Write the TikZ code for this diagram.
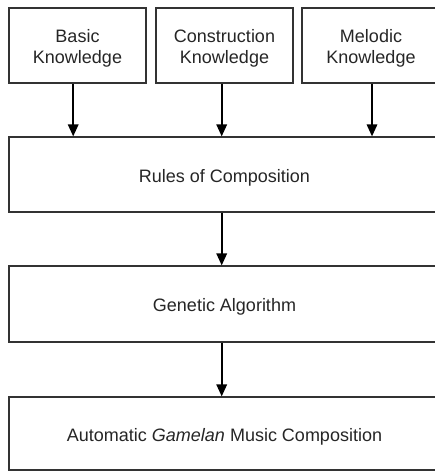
\documentclass[tikz,border=0pt]{standalone}
\usepackage{fontspec}
\setmainfont{Liberation Sans}
\usetikzlibrary{arrows.meta}
\begin{document}
\begin{tikzpicture}[x=1bp,y=-1bp,
  box/.style={draw=black!80, line width=1.2bp, fill=white, inner sep=0pt},
  txt/.style={align=center, inner sep=0pt, yshift=-3bp,
    font=\fontsize{18bp}{20.5bp}\selectfont, text=black!85},
  topbox/.style={box, minimum width=137bp, minimum height=75bp},
  widebox/.style={box, minimum width=431bp},
  arr/.style={line width=1.7bp, draw=black, -{Triangle[width=10.5bp,length=12bp]}}]
\useasboundingbox (0,0) rectangle (435,472);
\clip (0,0) rectangle (435,472);
\node[topbox, label={[txt]center:Basic\\Knowledge}] (b1) at (77.5,45.5) {};
\node[topbox, label={[txt]center:Construction\\Knowledge}] (b2) at (224.5,45.5) {};
\node[topbox, minimum width=138bp, label={[txt]center:Melodic\\Knowledge}] (b3) at (371,45.5) {};
\node[widebox, minimum height=75bp, label={[txt]center:Rules of Composition}] (rules) at (224.5,174.5) {};
\node[widebox, minimum height=76bp, label={[txt]center:Genetic Algorithm}] (ga) at (224.5,304) {};
\node[widebox, minimum height=73bp, label={[txt]center:Automatic \textit{Gamelan} Music Composition}] (auto) at (224.5,433.5) {};
\draw[arr] ([xshift=-4.3bp]b1.south) -- ([xshift=-4.3bp]b1.south |- rules.north);
\draw[arr] ([xshift=-2.8bp]b2.south) -- ([xshift=-2.8bp]b2.south |- rules.north);
\draw[arr] ([xshift=1bp]b3.south) -- ([xshift=1bp]b3.south |- rules.north);
\draw[arr] ([xshift=-2.8bp]rules.south) -- ([xshift=-2.8bp]rules.south |- ga.north);
\draw[arr] ([xshift=-2.8bp]ga.south) -- ([xshift=-2.8bp]ga.south |- auto.north);
\end{tikzpicture}
\end{document}
